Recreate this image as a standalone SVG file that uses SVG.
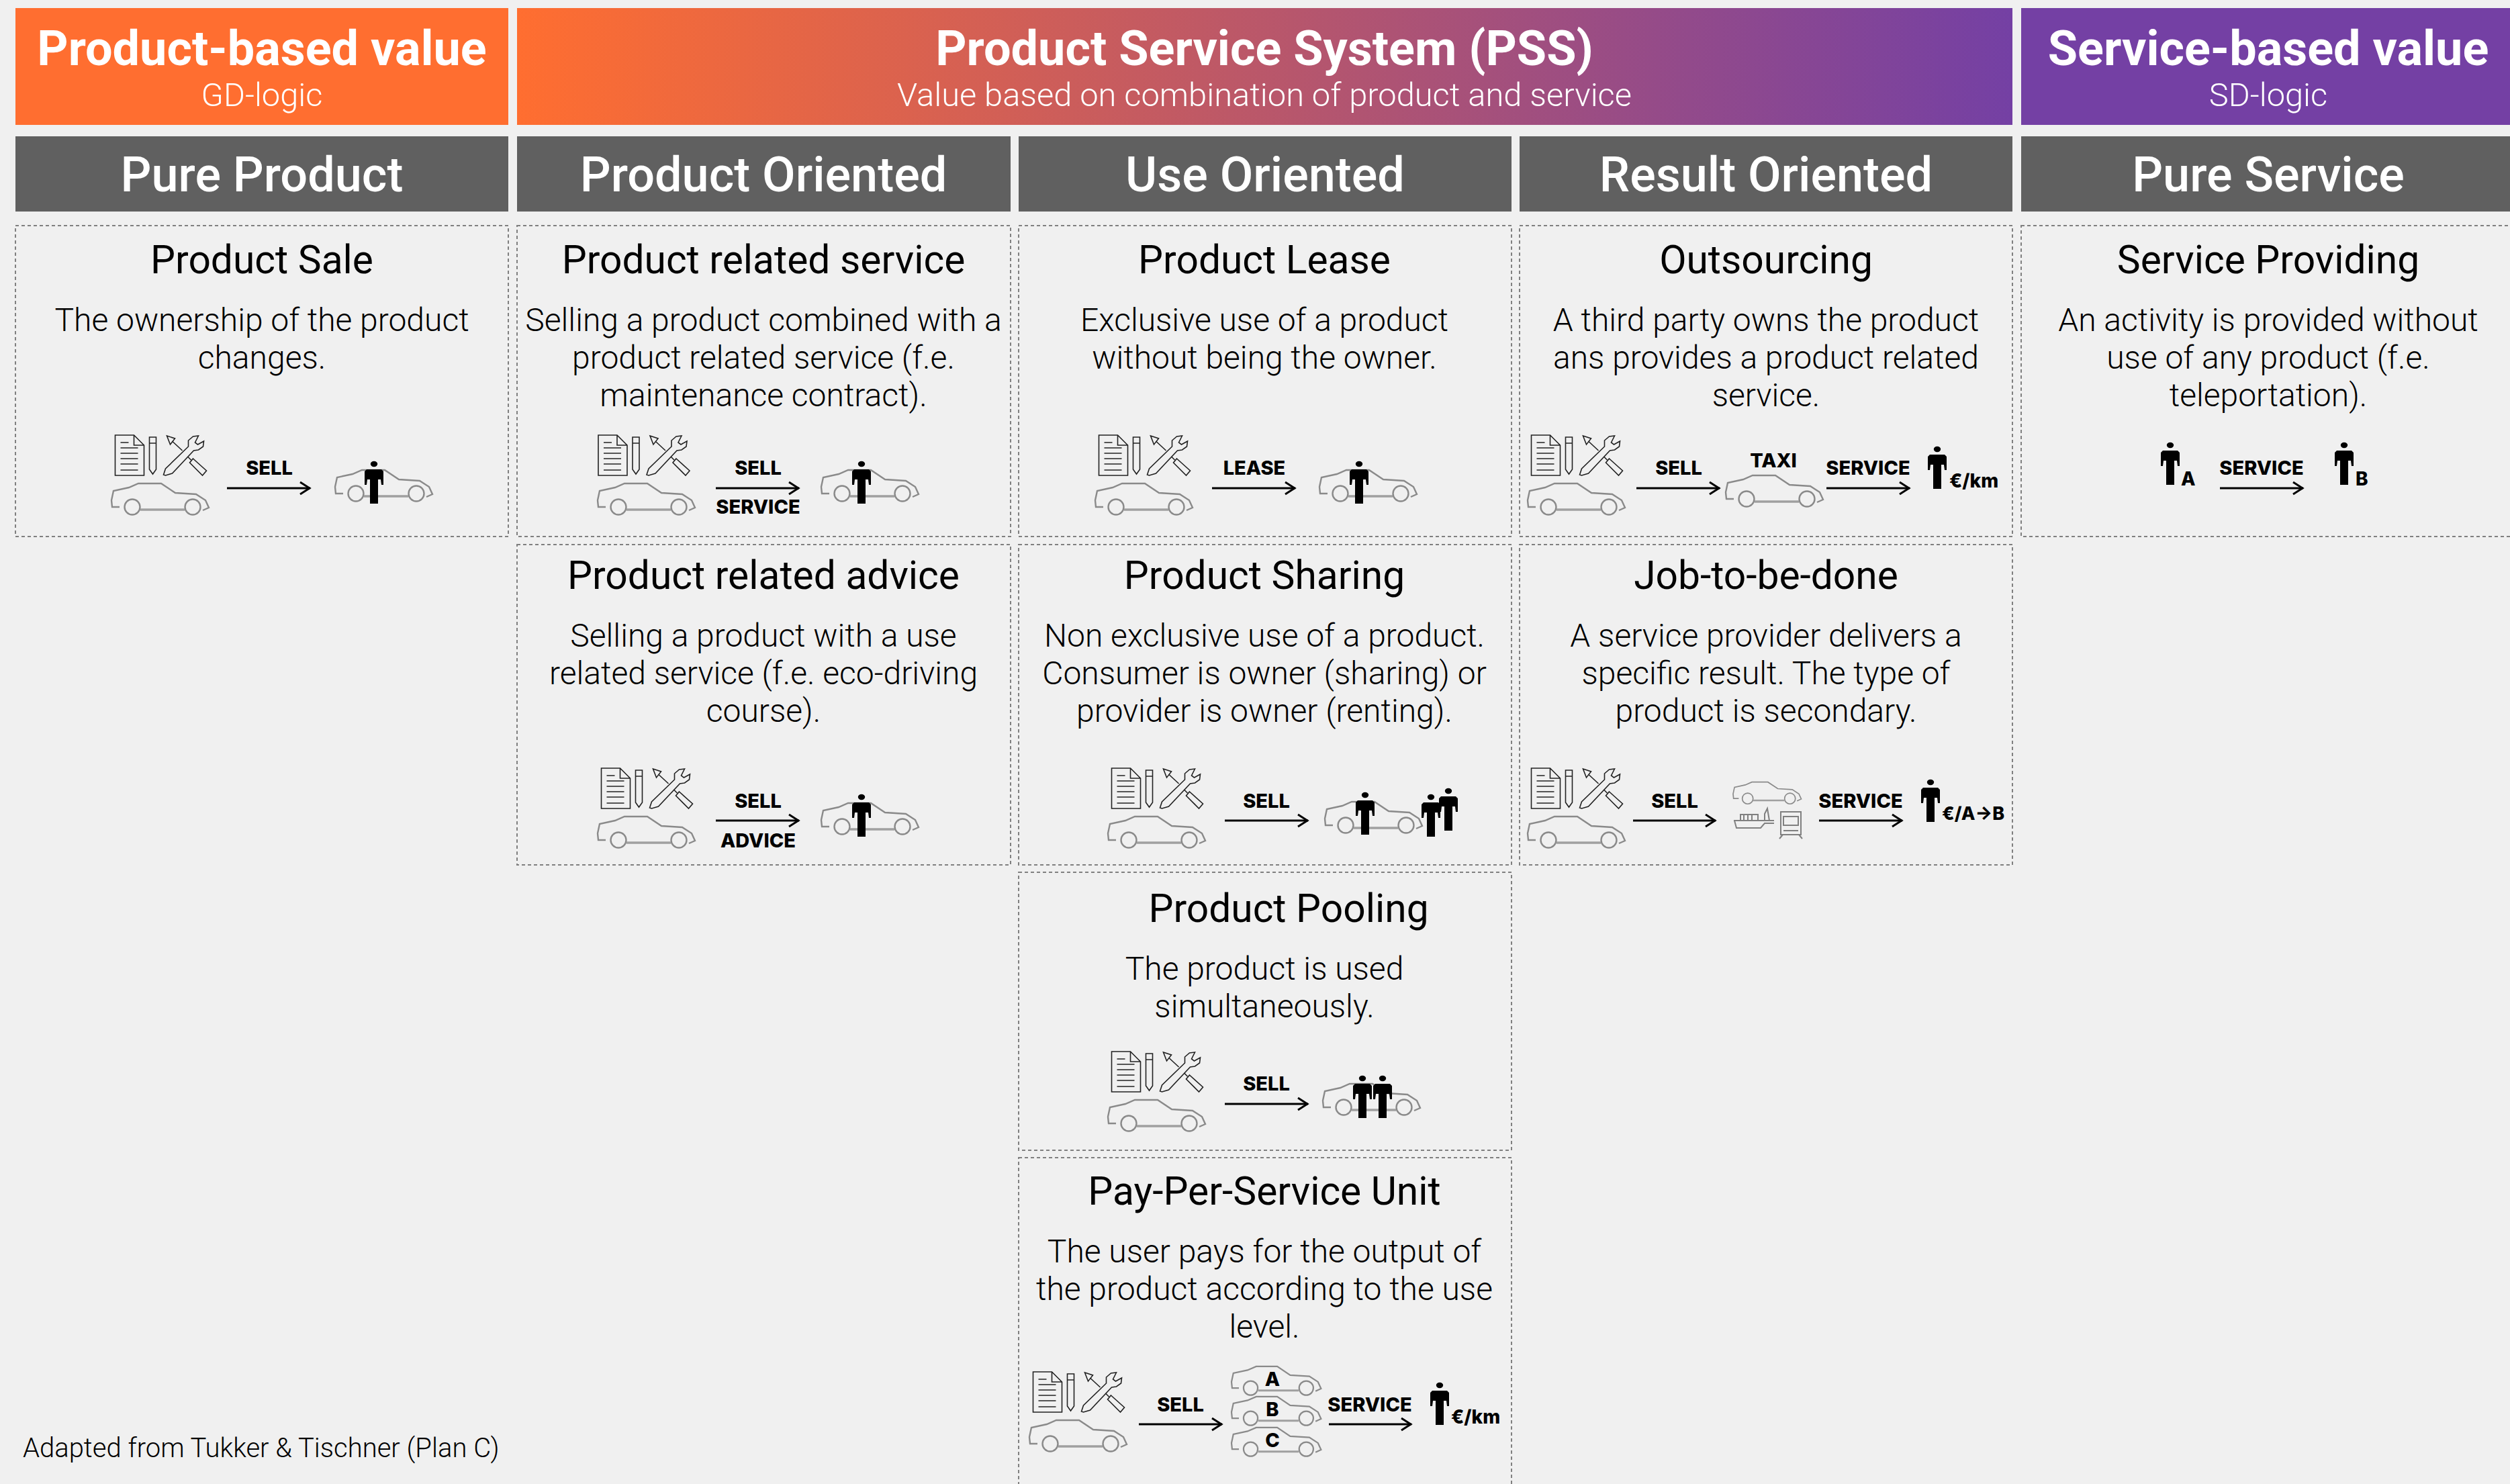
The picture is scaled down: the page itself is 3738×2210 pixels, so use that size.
<svg xmlns="http://www.w3.org/2000/svg" xmlns:xlink="http://www.w3.org/1999/xlink" width="3738" height="2210" viewBox="0 0 3738 2210">
<style>
text{font-family:Roboto,"Liberation Sans",sans-serif;text-anchor:middle}
.h1{font-size:72px;font-weight:700;fill:#fff}
.h2{font-size:48.8px;font-weight:300;fill:#fff}
.h3{font-size:72px;font-weight:500;fill:#fff}
.t{font-size:58.7px;font-weight:400;fill:#000}
.b{font-size:48px;font-weight:300;fill:#000}
.l{font-family:Inter,"Liberation Sans",sans-serif;font-size:29px;font-weight:800;fill:#000}
.u{font-family:Inter,"Liberation Sans",sans-serif;font-size:28px;font-weight:800;fill:#000;text-anchor:start}
.f{font-size:40px;font-weight:300;fill:#000;text-anchor:start}
.card{fill:none;stroke:#808080;stroke-width:2;stroke-dasharray:5 4}
.arrow{stroke:#000;stroke-width:3;fill:none;marker-end:url(#head)}
.ink{fill:none;stroke:#222;stroke-width:1.6}
.carline{fill:none;stroke:#8a8a8a;stroke-width:2.4}
</style>
<defs>
<linearGradient id="pss" x1="0" x2="1" y1="0" y2="0"><stop offset="0" stop-color="#ff6e30"/><stop offset="1" stop-color="#7440a4"/></linearGradient>
<filter id="soft" x="-10%" y="-10%" width="120%" height="120%"><feGaussianBlur stdDeviation="0.7"/></filter>
<marker id="head" markerUnits="userSpaceOnUse" viewBox="0 0 20 24" markerWidth="20" markerHeight="24" refX="17" refY="12" orient="auto"><path d="M2 3 L16 12 L2 21" fill="none" stroke="#000" stroke-width="3"/></marker>
<g id="tools" class="ink">
<path d="M0 0H28L43 15V60H0Z M28 0V15H43"/>
<path d="M8 11H20M8 19H34M8 27H34M8 35H34M8 43H34M8 52H34"/>
<path d="M51 3H61V51L56 58L51 51Z M51 12H61"/>
<path d="M77 1L89 5L82 14Z M86 10L100 23 M108 32L113 37 M116 35L136 53L130 60L111 41Z"/>
<path d="M72 59L75 50L109 17L109 8L116 2L124 1L119 11L123 14L132 9L131 17L124 22L117 23L85 57L75 60Z"/>
</g>
<g id="car" filter="url(#soft)">
<path class="carline" d="M12 36H1L0 26L3 12L26 7L40 1H74L95 15L126 17L140 26L145 37L136 41"/>
<circle class="carline" cx="31" cy="36" r="11.5"/>
<circle class="carline" cx="121" cy="36" r="11.5"/>
<path d="M43 40H109" fill="none" stroke="#a0a0a0" stroke-width="3.4"/>
</g>
<g id="person" filter="url(#soft)"><ellipse cx="14" cy="5" rx="5.2" ry="4.2"/><path d="M3 13H25L28 16V36H25L24 28H20V64H8V28H4L3 36H0V16Z"/></g>
<g id="seller"><use href="#tools" x="5.5"/><use href="#car" y="71"/></g>
</defs>
<rect width="3738" height="2210" fill="#f0f0f0"/>

<g id="header-product"><rect x="23" y="12" width="734" height="174" fill="#ff6e30"/><text class="h1" x="390" y="97">Product-based value</text><text class="h2" x="390" y="158">GD-logic</text></g>
<g id="header-pss"><rect x="770" y="12" width="2227" height="174" fill="url(#pss)"/><text class="h1" x="1883" y="97">Product Service System (PSS)</text><text class="h2" x="1883" y="158">Value based on combination of product and service</text></g>
<g id="header-service"><rect x="3010" y="12" width="728" height="174" fill="#7440a4"/><text class="h1" x="3378" y="97">Service-based value</text><text class="h2" x="3378" y="158">SD-logic</text></g>

<g id="col-pure-product"><rect x="23" y="203" width="734" height="112" fill="#606060"/><text class="h3" x="390" y="285">Pure Product</text></g>
<g id="col-product-oriented"><rect x="770" y="203" width="735" height="112" fill="#606060"/><text class="h3" x="1137" y="285">Product Oriented</text></g>
<g id="col-use-oriented"><rect x="1517" y="203" width="734" height="112" fill="#606060"/><text class="h3" x="1884" y="285">Use Oriented</text></g>
<g id="col-result-oriented"><rect x="2263" y="203" width="734" height="112" fill="#606060"/><text class="h3" x="2630" y="285">Result Oriented</text></g>
<g id="col-pure-service"><rect x="3010" y="203" width="740" height="112" fill="#606060"/><text class="h3" x="3378" y="285">Pure Service</text></g>

<g id="product-sale"><rect class="card" x="23" y="336" width="734" height="463"/><text class="t" x="390" y="407">Product Sale</text><text class="b" x="390" y="493">The ownership of the product</text><text class="b" x="390" y="549">changes.</text>
<use href="#seller" x="166" y="648"/><text class="l" x="401" y="707">SELL</text><use href="#car" x="499" y="699"/><use href="#person" x="543" y="686"/></g>

<g id="product-related-service"><rect class="card" x="770" y="336" width="735" height="463"/><text class="t" x="1137" y="407">Product related service</text><text class="b" x="1137" y="493">Selling a product combined with a</text><text class="b" x="1137" y="549">product related service (f.e.</text><text class="b" x="1137" y="605">maintenance contract).</text>
<use href="#tools" x="891" y="648"/><use href="#car" x="890" y="719"/><text class="l" x="1129" y="707">SELL</text><text class="l" x="1129" y="765">SERVICE</text><use href="#car" x="1223" y="699"/><use href="#person" x="1269" y="686"/></g>

<g id="product-lease"><rect class="card" x="1517" y="336" width="734" height="463"/><text class="t" x="1883" y="407">Product Lease</text><text class="b" x="1883" y="493">Exclusive use of a product</text><text class="b" x="1883" y="549">without being the owner.</text>
<use href="#seller" x="1631" y="648"/><text class="l" x="1868" y="707">LEASE</text><use href="#car" x="1965" y="699"/><use href="#person" x="2010" y="686"/></g>

<g id="outsourcing"><rect class="card" x="2263" y="336" width="734" height="463"/><text class="t" x="2630" y="407">Outsourcing</text><text class="b" x="2630" y="493">A third party owns the product</text><text class="b" x="2630" y="549">ans provides a product related</text><text class="b" x="2630" y="605">service.</text>
<use href="#seller" x="2275" y="648"/><text class="l" x="2500" y="707">SELL</text><text class="l" x="2641" y="696">TAXI</text><use href="#car" x="2570" y="707"/><text class="l" x="2782" y="707">SERVICE</text><use href="#person" x="2871" y="664"/><text class="u" x="2903" y="726">€/km</text></g>

<g id="service-providing"><rect class="card" x="3010" y="336" width="740" height="463"/><text class="t" x="3378" y="407">Service Providing</text><text class="b" x="3378" y="493">An activity is provided without</text><text class="b" x="3378" y="549">use of any product (f.e.</text><text class="b" x="3378" y="605">teleportation).</text>
<use href="#person" x="3218" y="658"/><text class="u" x="3248" y="723">A</text><text class="l" x="3368" y="707">SERVICE</text><use href="#person" x="3477" y="658"/><text class="u" x="3508" y="723">B</text></g>

<g id="product-related-advice"><rect class="card" x="770" y="811" width="735" height="477"/><text class="t" x="1137" y="877">Product related advice</text><text class="b" x="1137" y="963">Selling a product with a use</text><text class="b" x="1137" y="1019">related service (f.e. eco-driving</text><text class="b" x="1137" y="1075">course).</text>
<use href="#seller" x="890" y="1144"/><text class="l" x="1129" y="1203">SELL</text><text class="l" x="1129" y="1262">ADVICE</text><use href="#car" x="1223" y="1195"/><use href="#person" x="1269" y="1182"/></g>

<g id="product-sharing"><rect class="card" x="1517" y="811" width="734" height="477"/><text class="t" x="1883" y="877">Product Sharing</text><text class="b" x="1883" y="963">Non exclusive use of a product.</text><text class="b" x="1883" y="1019">Consumer is owner (sharing) or</text><text class="b" x="1883" y="1075">provider is owner (renting).</text>
<use href="#seller" x="1650" y="1144"/><text class="l" x="1886" y="1203">SELL</text><use href="#car" x="1973" y="1193"/><use href="#person" x="2019" y="1179"/><use href="#person" x="2117" y="1182"/><use href="#person" x="2143" y="1173"/></g>

<g id="job-to-be-done"><rect class="card" x="2263" y="811" width="734" height="477"/><text class="t" x="2630" y="877">Job-to-be-done</text><text class="b" x="2630" y="963">A service provider delivers a</text><text class="b" x="2630" y="1019">specific result. The type of</text><text class="b" x="2630" y="1075">product is secondary.</text>
<use href="#seller" x="2275" y="1144"/><text class="l" x="2494" y="1203">SELL</text><use href="#car" transform="translate(2581 1164) scale(0.7)"/>
<g filter="url(#soft)" fill="none" stroke="#808080" stroke-width="2"><path d="M2582 1222H2642M2583 1222L2586 1233H2622L2628 1226H2642M2592 1222V1213H2618V1222M2597 1213V1222M2603 1213V1222M2609 1213V1222M2628 1222V1212L2632 1204L2635 1222"/><path d="M2652 1209H2682V1243H2652Z M2656 1216H2678V1229H2656Z M2656 1237H2678M2655 1243L2650 1249M2679 1243L2684 1249"/></g>
<text class="l" x="2771" y="1203">SERVICE</text><use href="#person" x="2861" y="1160"/><text class="u" x="2892" y="1221" style="font-size:27px">€/A→B</text></g>

<g id="product-pooling"><rect class="card" x="1517" y="1299" width="734" height="414"/><text class="t" x="1919" y="1373">Product Pooling</text><text class="b" x="1883" y="1459">The product is used</text><text class="b" x="1883" y="1515">simultaneously.</text>
<use href="#seller" x="1650" y="1566"/><text class="l" x="1886" y="1624">SELL</text><use href="#car" x="1970" y="1613"/><use href="#person" x="2015" y="1601"/><use href="#person" x="2045" y="1601"/></g>

<g id="pay-per-service-unit"><rect class="card" x="1517" y="1724" width="734" height="500"/><text class="t" x="1883" y="1794">Pay-Per-Service Unit</text><text class="b" x="1883" y="1880">The user pays for the output of</text><text class="b" x="1883" y="1936">the product according to the use</text><text class="b" x="1883" y="1992">level.</text>
<use href="#seller" x="1533" y="2043"/><text class="l" x="1758" y="2102">SELL</text>
<use href="#car" transform="translate(1834 2034) scale(0.92)"/><use href="#car" transform="translate(1834 2079) scale(0.92)"/><use href="#car" transform="translate(1834 2125) scale(0.92)"/>
<text class="l" x="1895" y="2064">A</text><text class="l" x="1895" y="2109">B</text><text class="l" x="1895" y="2155">C</text>
<text class="l" x="2040" y="2102">SERVICE</text><use href="#person" x="2130" y="2058"/><text class="u" x="2161" y="2120">€/km</text></g>

<text id="credit" class="f" x="34" y="2170">Adapted from Tukker &amp; Tischner (Plan C)</text>

<g id="connectors">
<path class="arrow" d="M338 727H462"/>
<path class="arrow" d="M1066 727H1190"/>
<path class="arrow" d="M1805 727H1929"/>
<path class="arrow" d="M2437 727H2561"/>
<path class="arrow" d="M2720 727H2844"/>
<path class="arrow" d="M3306 727H3430"/>
<path class="arrow" d="M1066 1222H1190"/>
<path class="arrow" d="M1824 1222H1948"/>
<path class="arrow" d="M2432 1222H2555"/>
<path class="arrow" d="M2709 1222H2833"/>
<path class="arrow" d="M1824 1644H1948"/>
<path class="arrow" d="M1696 2121H1820"/>
<path class="arrow" d="M1979 2121H2102"/>
</g>
</svg>
